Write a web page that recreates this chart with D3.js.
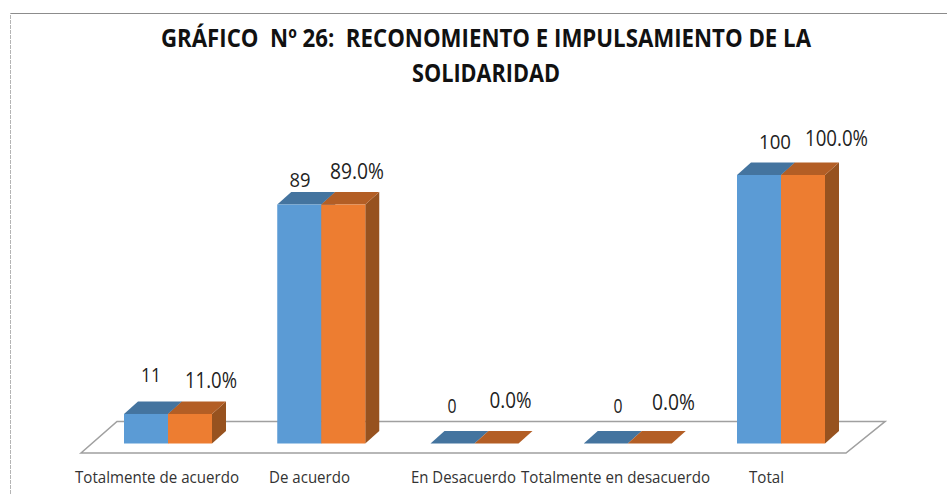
<!DOCTYPE html>
<html><head><meta charset="utf-8">
<script src="https://cdn.jsdelivr.net/npm/d3@7"></script>
<style>html,body{margin:0;padding:0;background:#fff}svg{display:block}</style></head>
<body><svg id="c" width="947" height="495"></svg>
<script>
const categories = ["Totalmente de acuerdo","De acuerdo","En Desacuerdo","Totalmente en desacuerdo","Total"];
const counts = [11,89,0,0,100];
const percents = [11.0,89.0,0.0,0.0,100.0];
const titleLines = ["GRÁFICO  Nº 26:  RECONOMIENTO E IMPULSAMIENTO DE LA","SOLIDARIDAD"];

const svg = d3.select("#c");
const x = d3.scalePoint().domain(categories).range([168,781]);
const y = d3.scaleLinear().domain([0,100]).range([443.5,175]);
const halfW = 44, dx = 14, dy = 12.5;

svg.append("path").attr("d","M10.5,494V13.5").attr("fill","none").attr("stroke","#b5b5b5").attr("stroke-dasharray","4 1");
svg.append("path").attr("d","M10.5,13.5H947").attr("fill","none").attr("stroke","#8c8c8c");

// floor
svg.append("path").attr("d","M81,453L117,421.5H885L846,453Z")
  .attr("fill","#fff").attr("stroke","#a0a0a0").attr("stroke-width",1.6);

const series = [
 {vals:counts, off:-halfW, front:"#5b9bd5", top:"#44749f", side:"#3d6a94"},
 {vals:percents, off:0, front:"#ed7d31", top:"#b35e25", side:"#97521f"}
];
const g = svg.append("g");
categories.forEach((c,i)=>{
  series.forEach(s=>{
    const x0 = x(c)+s.off, x1 = x0+halfW, yb = y(0), yt = y(s.vals[i]);
    const p = (pts)=>"M"+pts.map(q=>q.join(",")).join("L")+"Z";
    g.append("path").attr("d",p([[x1,yb],[x1+dx,yb-dy],[x1+dx,yt-dy],[x1,yt]])).attr("fill",s.side);
    g.append("path").attr("d",p([[x0,yt],[x0+dx,yt-dy],[x1+dx,yt-dy],[x1,yt]])).attr("fill",s.top);
    g.append("rect").attr("x",x0).attr("y",yt).attr("width",halfW).attr("height",yb-yt).attr("fill",s.front);
  });
});

// title
titleLines.forEach((t,i)=>{
  svg.append("text").text(t).attr("x",486).attr("y",[47,82][i]).attr("text-anchor","middle")
    .attr("font-family","'Open Sans'").attr("font-weight",700).attr("font-size",25).attr("fill","#111")
    .style("white-space","pre")
    .attr("textLength",[650,148][i]).attr("lengthAdjust","spacingAndGlyphs");
});

// value labels
const countPos = [[151,382],[300,187],[452,413],[618,413],[775,149]];
const pctPos = [[211,388],[357,179],[510.5,408],[673.5,410],[836.5,146]];
const countW = [20,21,9,9,32];
const pctW = [52,54,42,43,63];
const txt = (s,[px,py],w,fs)=>{
  svg.append("text").text(s).attr("x",px).attr("y",py).attr("text-anchor","middle")
    .attr("font-family","'Open Sans'").attr("font-size",fs).attr("fill","#222")
    .attr("textLength",w).attr("lengthAdjust","spacingAndGlyphs");
};
categories.forEach((c,i)=>{
  txt(String(counts[i]),countPos[i],countW[i],20);
  txt(d3.format(".1f")(percents[i])+"%",pctPos[i],pctW[i],21);
});

// axis labels
const catPos = [[75,164],[269,81],[411,105],[521,189],[749,35]];
categories.forEach((c,i)=>{
  svg.append("text").text(c).attr("x",catPos[i][0]).attr("y",483)
    .attr("font-family","'Open Sans'").attr("font-size",17).attr("fill","#333")
    .attr("textLength",catPos[i][1]).attr("lengthAdjust","spacingAndGlyphs");
});
</script></body></html>
